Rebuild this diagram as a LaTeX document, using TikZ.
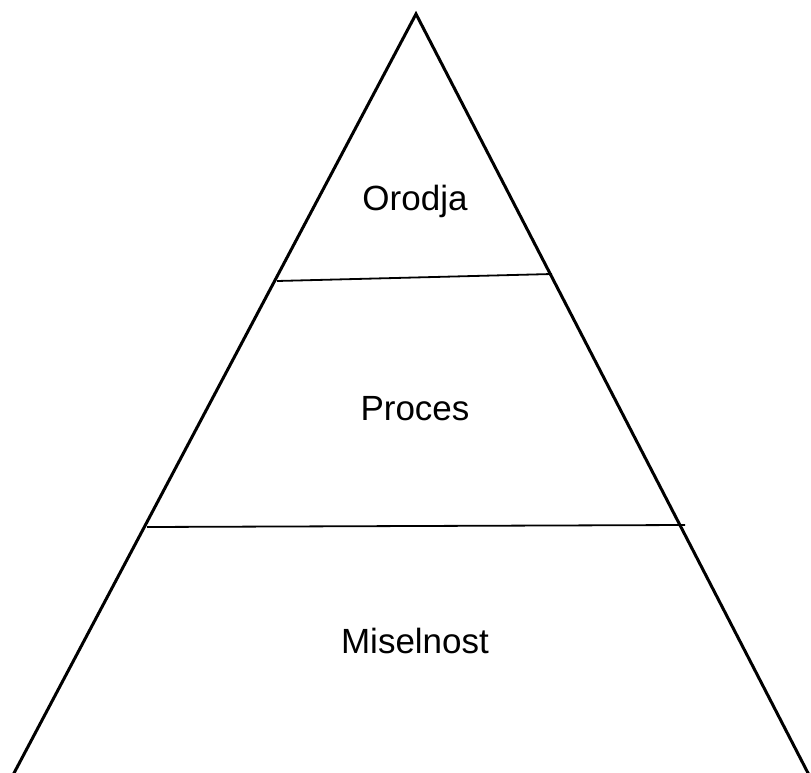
\documentclass[tikz,border=0pt]{standalone}
\usepackage{fontspec}
\setmainfont{Liberation Sans}
\begin{document}
\begin{tikzpicture}[x=1pt,y=-1pt,
  edge/.style={line width=3pt,line join=miter},
  sep/.style={line width=1.8pt},
  lbl/.style={font=\fontsize{35}{42}\selectfont,anchor=base,inner sep=0pt}]
\useasboundingbox (0,0) rectangle (811,773);
\coordinate (apex) at (416,14);
\coordinate (bl) at (13,775);
\coordinate (br) at (809,775);
\draw[edge] (bl) -- (apex) -- (br);
\coordinate (a1) at (277,281);
\coordinate (b1) at (552,274);
\coordinate (a2) at (147,527);
\coordinate (b2) at (685,525);
\draw[sep] (a1) -- (b1);
\draw[sep] (a2) -- (b2);
\node[lbl] (t1) at (415,210) {Orodja};
\node[lbl] (t2) at (415,420) {Proces};
\node[lbl] (t3) at (415,653) {Miselnost};
\end{tikzpicture}
\end{document}
